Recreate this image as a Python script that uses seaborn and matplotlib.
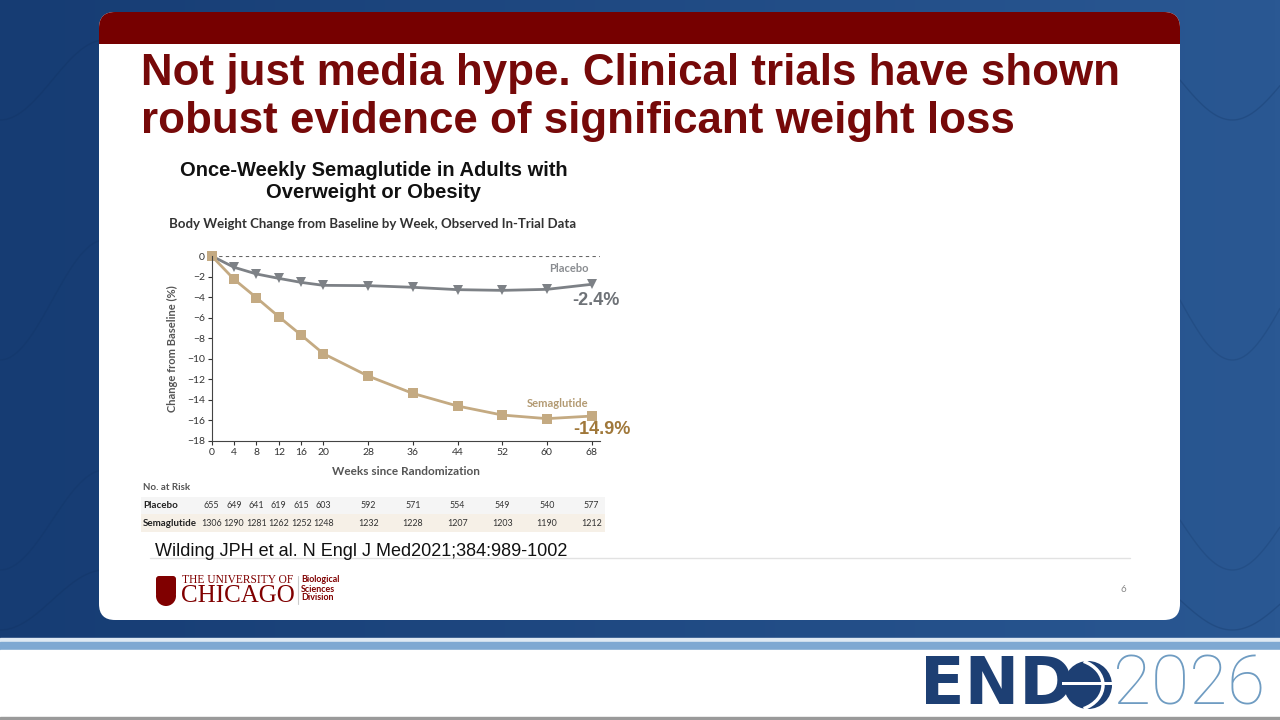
import numpy as np
import pandas as pd
import matplotlib
matplotlib.use("Agg")
import matplotlib.pyplot as plt
from matplotlib.patches import FancyBboxPatch, Rectangle, Circle, Arc
import matplotlib.transforms as mtransforms
import seaborn as sns

# data
weeks = [0, 4, 8, 12, 16, 20, 28, 36, 44, 52, 60, 68]
placebo = [0.0, -1.1, -1.75, -2.18, -2.57, -2.86, -2.89, -3.05, -3.28, -3.35, -3.25, -2.76]
semaglutide = [0.0, -2.27, -4.06, -5.91, -7.70, -9.52, -11.70, -13.39, -14.62, -15.50, -15.85, -15.60]
risk_placebo = [655, 649, 641, 619, 615, 603, 592, 571, 554, 549, 540, 577]
risk_sema = [1306, 1290, 1281, 1262, 1252, 1248, 1232, 1228, 1207, 1203, 1190, 1212]
xticks = weeks
yticks = list(range(0, -19, -2))

df = pd.DataFrame({
    "week": weeks * 2,
    "change": placebo + semaglutide,
    "group": ["Placebo"] * len(weeks) + ["Semaglutide"] * len(weeks),
})

sns.set_theme(style="ticks")
plt.rcParams["font.family"] = ["Lato", "DejaVu Sans"]

GRAY = "#7d8186"
TAN = "#c4aa82"
MAROON = "#760909"
NAVY = "#1d3f73"

fig = plt.figure(figsize=(12.8, 7.2), dpi=100)

# slide background in pixel coordinates
bg = fig.add_axes([0, 0, 1, 1], zorder=0)
bg.set_xlim(0, 1280)
bg.set_ylim(720, 0)
bg.axis("off")
grad = np.linspace(0, 1, 256).reshape(1, -1)
bg.imshow(grad, extent=[0, 1280, 720, 0], aspect="auto",
          cmap=matplotlib.colors.LinearSegmentedColormap.from_list("b", ["#163c73", "#2a5893"]))
# faint tissue-like curves
tt = np.linspace(0, 1, 100)
for y0, amp, a in [(80, 40, 0.25), (300, 60, 0.2), (520, 50, 0.2), (600, 30, 0.25)]:
    bg.plot(1180 + tt * 100, y0 + amp * np.sin(tt * 3), color="#0f2f5c", lw=1, alpha=a)
    bg.plot(tt * 100, y0 + amp * np.cos(tt * 3), color="#0f2f5c", lw=1, alpha=a)

# bottom band
bg.add_patch(Rectangle((0, 638), 1280, 4, color="#dfe9f3", zorder=1))
bg.add_patch(Rectangle((0, 642), 1280, 8, color="#7ea8d2", zorder=1))
bg.add_patch(Rectangle((0, 650), 1280, 70, color="white", zorder=1))
bg.add_patch(Rectangle((0, 717), 1280, 3, color="#9a9a9a", zorder=1))

# card
bg.add_patch(FancyBboxPatch((99, 12), 1081, 608, boxstyle="round,pad=0,rounding_size=16",
                            fc="white", ec="none", zorder=2))
bg.add_patch(FancyBboxPatch((99, 12), 1081, 50, boxstyle="round,pad=0,rounding_size=16",
                            fc="#760000", ec="none", zorder=3))
bg.add_patch(Rectangle((99, 44), 1081, 30, fc="white", ec="none", zorder=4))

bg.text(141, 74, "Not just media hype. Clinical trials have shown", color=MAROON,
        fontsize=31.6, fontweight="bold", family="Liberation Sans", va="center", zorder=5)
bg.text(141, 121, "robust evidence of significant weight loss", color=MAROON,
        fontsize=31.6, fontweight="bold", family="Liberation Sans", va="center", zorder=5)

bg.text(374, 170, "Once-Weekly Semaglutide in Adults with", color="#111111", fontsize=14.5,
        fontweight="bold", family="Liberation Sans", ha="center", va="center", zorder=5)
bg.text(374, 193, "Overweight or Obesity", color="#111111", fontsize=14.5,
        fontweight="bold", family="Liberation Sans", ha="center", va="center", zorder=5)
bg.text(373, 224, "Body Weight Change from Baseline by Week, Observed In-Trial Data",
        color="#333333", fontsize=9.5, fontweight="bold", ha="center", va="center", zorder=5)

# table row backgrounds
bg.add_patch(Rectangle((141, 497), 464, 17, fc="#f5f5f5", ec="none", zorder=4))
bg.add_patch(Rectangle((141, 514), 464, 18, fc="#f6f0e7", ec="none", zorder=4))
bg.text(143, 488, "No. at Risk", color="#555555", fontsize=7, fontweight="bold", va="center", zorder=5)
bg.text(143, 505, "Placebo", color="#222222", fontsize=7, fontweight="bold", va="center", zorder=5)
bg.text(143, 523, "Semaglutide", color="#222222", fontsize=7, fontweight="bold", va="center", zorder=5)

bg.text(155, 551, "Wilding JPH et al. N Engl J Med2021;384:989-1002", color="#111111",
        fontsize=13, family="Liberation Sans", va="center", zorder=5)
bg.plot([150, 1130], [558, 558], color="#e2e2e2", lw=1, zorder=4)
bg.text(1123, 590, "6", color="#888888", fontsize=7, ha="center", va="center", zorder=5)

# UChicago logo
bg.add_patch(FancyBboxPatch((156, 576), 20, 20, boxstyle="round,pad=0,rounding_size=3",
                            fc="#800000", ec="none", zorder=5))
bg.add_patch(Circle((166, 596), 10, fc="#800000", ec="none", zorder=5))
bg.text(182, 580, "THE UNIVERSITY OF", color="#800000", fontsize=8.3,
        family="Liberation Serif", va="center", zorder=5)
bg.text(181, 596, "CHICAGO", color="#800000", fontsize=18,
        family="Liberation Serif", va="center", zorder=5)
bg.plot([298, 298], [576, 604], color="#cccccc", lw=0.8, zorder=5)
for i, w in enumerate(["Biological", "Sciences", "Division"]):
    bg.text(301, 580 + i * 9, w, color="#800000", fontsize=6.4, fontweight="bold",
            va="center", zorder=5)

# ENDO2026 logo
bg.text(920, 686, "END", color=NAVY, fontsize=47, fontweight="heavy",
        family="DejaVu Sans", va="center", zorder=5)
bg.add_patch(Circle((1088, 685), 24, fc=NAVY, ec="none", zorder=5))
bg.add_patch(Rectangle((1062, 682), 52, 3, fc="white", ec="none", zorder=6))
bg.add_patch(Arc((1070, 685), 66, 52, theta1=-60, theta2=60, color="white", lw=2.5, zorder=6))
bg.text(1113, 686, "2026", color="#6f9cc2", fontsize=50, fontweight="light",
        family=["Roboto", "Lato"], va="center", zorder=5)

# main chart axes
ax = fig.add_axes([211.7 / 1280, 1 - 440.7 / 720, (600 - 211.7) / 1280, 184.7 / 720], zorder=10)
ax.patch.set_alpha(0)
sns.lineplot(data=df, x="week", y="change", hue="group", style="group",
             palette={"Placebo": GRAY, "Semaglutide": TAN},
             markers={"Placebo": "v", "Semaglutide": "s"}, dashes=False,
             markersize=6.5, markeredgewidth=0, linewidth=2, legend=False, ax=ax)
for ln in ax.lines:
    ln.set_clip_on(False)
ax.axhline(0, color="#666666", lw=0.8, ls=(0, (3, 3)), zorder=0)
ax.set_xlim(0, 69.5)
ax.set_ylim(-18, 0)
ax.set_xticks(xticks)
ax.set_yticks(yticks)
ax.set_yticklabels([str(v).replace("-", "\u2212") for v in yticks])
ax.tick_params(labelsize=7.5, length=3, width=0.8, colors="#333333", pad=2)
for s in ["top", "right"]:
    ax.spines[s].set_visible(False)
for s in ["left", "bottom"]:
    ax.spines[s].set_color("#444444")
    ax.spines[s].set_linewidth(0.8)
ax.set_xlabel("Weeks since Randomization", fontsize=8.5, color="#555555",
              fontweight="bold", labelpad=7)
ax.set_ylabel("Change from Baseline (%)", fontsize=8, color="#555555",
              fontweight="bold", labelpad=6)

ax.text(67.5, -1.2, "Placebo", color="#8a8d91", fontsize=8, fontweight="bold", ha="right", va="center")
ax.text(64.5, -4.3, "-2.4%", color="#6e7277", fontsize=13, fontweight="bold",
        family="Liberation Sans", va="center")
ax.text(67.5, -14.4, "Semaglutide", color="#b39a72", fontsize=8, fontweight="bold", ha="right", va="center")
ax.text(64.8, -16.9, "-14.9%", color="#a0783a", fontsize=13, fontweight="bold",
        family="Liberation Sans", va="center")

# number at risk table, columns aligned with the week axis
tr = mtransforms.blended_transform_factory(ax.transData, fig.transFigure)
for w, p, s in zip(weeks, risk_placebo, risk_sema):
    ax.text(w, 1 - 505 / 720, str(p), transform=tr, ha="center", va="center",
            fontsize=6.4, color="#333333", clip_on=False)
    ax.text(w, 1 - 523 / 720, str(s), transform=tr, ha="center", va="center",
            fontsize=6.4, color="#333333", clip_on=False)

fig.savefig("out.png", dpi=100)
